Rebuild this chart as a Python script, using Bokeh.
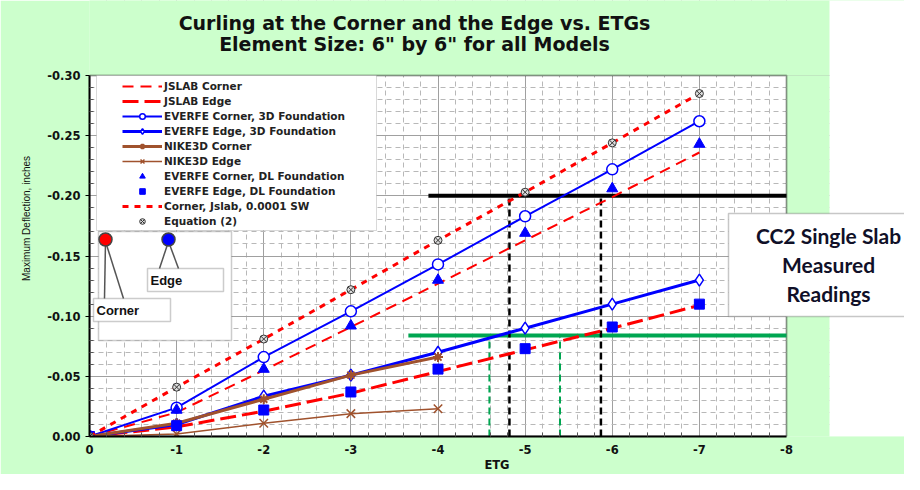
from bokeh.plotting import figure
from bokeh.models import (Range1d, FixedTicker, Legend, LegendItem, Label, BoxAnnotation)
from bokeh.embed import file_html
from bokeh.resources import INLINE

# ---------------- data ----------------
etg = [0, -1, -2, -3, -4, -5, -6, -7]
jslab_corner = [0, -0.020, -0.055, -0.091, -0.127, -0.163, -0.199, -0.236]
jslab_edge = [0, -0.008, -0.021, -0.036, -0.054, -0.072, -0.090, -0.109]
everfe_corner_3d = [0, -0.024, -0.066, -0.104, -0.143, -0.183, -0.222, -0.262]
everfe_edge_3d = [0, -0.010, -0.0335, -0.051, -0.070, -0.090, -0.110, -0.130]
etg_nike = [0, -1, -2, -3, -4]
nike_corner = [0, -0.011, -0.031, -0.051, -0.066]
nike_edge = [0, -0.002, -0.011, -0.019, -0.023]
everfe_corner_dl = [0, -0.022, -0.056, -0.092, -0.130, -0.169, -0.206, -0.243]
everfe_edge_dl = [0, -0.009, -0.022, -0.037, -0.056, -0.073, -0.091, -0.110]
corner_sw = [0, -0.041, -0.081, -0.122, -0.163, -0.203, -0.244, -0.285]
equation2 = [0, -0.041, -0.081, -0.122, -0.163, -0.203, -0.244, -0.285]

# measured readings (CC2 single slab)
corner_reading = -0.200
corner_reading_etg = [-4.82, -5.87]
edge_reading = -0.084
edge_reading_etg = [-4.59, -5.40]
corner_line_start = -3.89
edge_line_start = -3.66

x_ticks = [0, -1, -2, -3, -4, -5, -6, -7, -8]
x_tick_labels = ["0", "-1", "-2", "-3", "-4", "-5", "-6", "-7", "-8"]
y_ticks = [0, -0.05, -0.10, -0.15, -0.20, -0.25, -0.30]
y_tick_labels = ["0.00", "-0.05", "-0.10", "-0.15", "-0.20", "-0.25", "-0.30"]
X_END, Y_END = -8, -0.30

GREEN_BG = "#ccffcc"
RED = "#ff0000"
BLUE = "#0000ff"
BROWN = "#a0522d"
READ_GREEN = "#00a651"
FONT = "Liberation Sans"
WFONT = "DejaVu Sans"

# ---------------- layout (pixels) ----------------
W = 904
FL, FR, FT, FB = 89, 786, 75, 436      # chart area (axes box) in canvas pixels
def dx(px):
    return X_END * (px - FL) / (FR - FL)
def dy(py):
    return Y_END * (FB - py) / (FB - FT)

# The frame spans to the canvas top/right so that decorations can be drawn there
p = figure(frame_width=W - FL, frame_height=FB, output_backend="svg",
           toolbar_location=None,
           x_range=Range1d(0, dx(W)), y_range=Range1d(0, dy(0)),
           min_border_left=FL, min_border_right=0, min_border_top=0,
           min_border_bottom=38)
p.background_fill_color = GREEN_BG
p.border_fill_color = GREEN_BG
p.outline_line_color = None

x_minor = [-(i / 5.0) for i in range(0, 41) if i % 5 != 0]
y_minor = [-(i / 100.0) for i in range(0, 31) if i % 5 != 0]
p.xaxis.ticker = FixedTicker(ticks=x_ticks, minor_ticks=x_minor)
p.yaxis.ticker = FixedTicker(ticks=y_ticks, minor_ticks=y_minor)
p.xaxis.major_label_overrides = {t: l for t, l in zip(x_ticks, x_tick_labels)}
p.yaxis.major_label_overrides = {t: l for t, l in zip(y_ticks, y_tick_labels)}
p.xaxis.bounds = (0, X_END)
p.yaxis.bounds = (0, Y_END)

for ax in (p.xaxis[0], p.yaxis[0]):
    ax.axis_line_color = "black"
    ax.axis_line_width = 2
    ax.major_tick_line_color = "black"
    ax.major_tick_out = 4
    ax.major_tick_in = 0
    ax.minor_tick_line_color = "#555555"
    ax.minor_tick_in = 4
    ax.minor_tick_out = 0
    ax.major_label_text_font = WFONT
    ax.major_label_text_font_style = "bold"
    ax.major_label_text_font_size = "11.5px"
    ax.major_label_text_color = "#111111"
    ax.axis_label_text_font = FONT
    ax.axis_label_text_color = "#111111"

p.xaxis.major_tick_out = 0
p.xaxis.axis_label = "ETG"
p.xaxis.axis_label_text_font = WFONT
p.xaxis.axis_label_text_font_style = "bold"
p.xaxis.axis_label_text_font_size = "11.5px"
p.xaxis.axis_label_standoff = 1
p.xaxis.major_label_standoff = 8
p.yaxis.axis_label = "Maximum Deflection, inches"
p.yaxis.axis_label_text_font_style = "normal"
p.yaxis.axis_label_text_font_size = "10px"
p.yaxis.axis_label_standoff = 12
p.yaxis.major_label_standoff = 5

p.xgrid.grid_line_color = "#a0a0a0"
p.ygrid.grid_line_color = "#a0a0a0"
p.xgrid.minor_grid_line_color = "#b8b8b8"
p.ygrid.minor_grid_line_color = "#b8b8b8"
p.xgrid.minor_grid_line_dash = "5 4"
p.ygrid.minor_grid_line_dash = "5 4"

XMAX, YMAX = dx(W), dy(0)
# white chart area under the grid
p.add_layout(BoxAnnotation(left=0, right=X_END, top=Y_END, bottom=0, fill_color="white",
                           fill_alpha=1, line_alpha=0, level="image"))
# green / white covers for the parts of the frame outside the chart box
p.add_layout(BoxAnnotation(left=0, right=dx(829), top=YMAX, bottom=Y_END,
                           fill_color=GREEN_BG, fill_alpha=1, line_alpha=0, level="underlay"))
p.add_layout(BoxAnnotation(left=X_END, right=dx(829), top=Y_END, bottom=0,
                           fill_color=GREEN_BG, fill_alpha=1, line_alpha=0, level="underlay"))
p.add_layout(BoxAnnotation(left=dx(829), right=XMAX, top=YMAX, bottom=0,
                           fill_color="white", fill_alpha=1, line_alpha=0, level="underlay"))
# chart box border
p.add_layout(BoxAnnotation(left=0, right=X_END, top=Y_END, bottom=0, fill_alpha=0,
                           line_color="black", line_width=2, level="underlay"))

# legend background box
p.add_layout(BoxAnnotation(left=dx(96), right=dx(376), top=dy(75), bottom=dy(230),
                           fill_color="white", fill_alpha=1, line_color="#808080",
                           line_width=1, level="underlay"))

# ---------------- inset (Corner / Edge locator) ----------------
p.add_layout(BoxAnnotation(left=dx(98), right=dx(231), top=dy(231), bottom=dy(340),
                           fill_color="white", fill_alpha=1, line_color="#555555",
                           line_width=1.5, level="underlay"))
p.add_layout(BoxAnnotation(left=dx(93), right=dx(170), top=dy(298), bottom=dy(321),
                           fill_color="white", fill_alpha=1, line_color="#555555",
                           line_width=1.5, level="underlay"))
p.add_layout(BoxAnnotation(left=dx(147), right=dx(223), top=dy(268), bottom=dy(291),
                           fill_color="white", fill_alpha=1, line_color="#555555",
                           line_width=1.5, level="underlay"))
p.segment(x0=[dx(105), dx(105), dx(168), dx(168)], y0=[dy(241), dy(241), dy(241), dy(241)],
          x1=[dx(104), dx(123), dx(159), dx(178)], y1=[dy(298), dy(298), dy(268), dy(268)],
          line_color="#555555", line_width=1.5)
p.scatter(x=[dx(105)], y=[dy(239)], size=13, marker="circle", fill_color=RED,
          line_color="#444444", line_width=1.5)
p.scatter(x=[dx(168)], y=[dy(239)], size=13, marker="circle", fill_color=BLUE,
          line_color="#444444", line_width=1.5)
p.add_layout(Label(x=dx(96), y=dy(310), text="Corner", text_font=FONT,
                   text_font_style="bold", text_font_size="13px", text_color="#111111",
                   text_baseline="middle", text_align="left"))
p.add_layout(Label(x=dx(150), y=dy(280), text="Edge", text_font=FONT,
                   text_font_style="bold", text_font_size="13px", text_color="#111111",
                   text_baseline="middle", text_align="left"))

# ---------------- measured reading lines ----------------
p.segment(x0=[corner_line_start], y0=[corner_reading], x1=[X_END], y1=[corner_reading],
          line_color="black", line_width=4)
p.segment(x0=[edge_line_start], y0=[edge_reading], x1=[X_END], y1=[edge_reading],
          line_color=READ_GREEN, line_width=4)
p.segment(x0=corner_reading_etg, y0=[0, 0], x1=corner_reading_etg,
          y1=[corner_reading, corner_reading], line_color="black", line_width=2.5,
          line_dash="7 4")
p.segment(x0=edge_reading_etg, y0=[0, 0], x1=edge_reading_etg,
          y1=[edge_reading, edge_reading], line_color=READ_GREEN, line_width=2,
          line_dash="7 4")

# ---------------- data series ----------------
r_jc = p.line(etg, jslab_corner, line_color=RED, line_width=2, line_dash="11 7")
r_je = p.line(etg, jslab_edge, line_color=RED, line_width=3, line_dash="16 6")
r_ec_l = p.line(etg, everfe_corner_3d, line_color=BLUE, line_width=2)
r_ec_m = p.scatter(etg, everfe_corner_3d, marker="circle", size=11, fill_color="white",
                   line_color=BLUE, line_width=1.5)
r_ee_l = p.line(etg, everfe_edge_3d, line_color=BLUE, line_width=3)
r_ee_m = p.scatter(etg, everfe_edge_3d, marker="diamond", size=12, fill_color="white",
                   line_color=BLUE, line_width=1.5)
r_nc_l = p.line(etg_nike, nike_corner, line_color=BROWN, line_width=3)
r_nc_m = p.scatter(etg_nike, nike_corner, marker="asterisk", size=10, line_color=BROWN,
                   line_width=2)
r_ne_l = p.line(etg_nike, nike_edge, line_color=BROWN, line_width=1.5)
r_ne_m = p.scatter(etg_nike, nike_edge, marker="x", size=12, line_color=BROWN,
                   line_width=1.5)
r_cd = p.scatter(etg, everfe_corner_dl, marker="triangle", size=11, fill_color=BLUE,
                 line_color=BLUE)
r_ed = p.scatter(etg, everfe_edge_dl, marker="square", size=10, fill_color=BLUE,
                 line_color=BLUE)
r_sw = p.line(etg, corner_sw, line_color=RED, line_width=3, line_dash="6 6")
r_eq = p.scatter(etg, equation2, marker="circle_x", size=8, fill_color="#dddddd",
                 line_color="#333333", line_width=1)

legend = Legend(items=[
    LegendItem(label="JSLAB Corner", renderers=[r_jc]),
    LegendItem(label="JSLAB Edge", renderers=[r_je]),
    LegendItem(label="EVERFE Corner, 3D Foundation", renderers=[r_ec_l, r_ec_m]),
    LegendItem(label="EVERFE Edge, 3D Foundation", renderers=[r_ee_l, r_ee_m]),
    LegendItem(label="NIKE3D Corner", renderers=[r_nc_l, r_nc_m]),
    LegendItem(label="NIKE3D Edge", renderers=[r_ne_l, r_ne_m]),
    LegendItem(label="EVERFE Corner, DL Foundation", renderers=[r_cd]),
    LegendItem(label="EVERFE Edge, DL Foundation", renderers=[r_ed]),
    LegendItem(label="Corner, Jslab, 0.0001 SW", renderers=[r_sw]),
    LegendItem(label="Equation (2)", renderers=[r_eq]),
], location=(29, 204))
legend.margin = 0
legend.padding = 4
legend.spacing = 1
legend.glyph_width = 40
legend.glyph_height = 14
legend.label_height = 14
legend.label_standoff = 2
legend.label_text_font = WFONT
legend.label_text_font_style = "bold"
legend.label_text_font_size = "10.5px"
legend.label_text_color = "#222222"
legend.border_line_alpha = 0
legend.background_fill_alpha = 0
p.add_layout(legend)

# ---------------- titles ----------------
for txt, py in [("Curling at the Corner and the Edge vs. ETGs", 22),
                ("Element Size: 6\" by 6\" for all Models", 43)]:
    p.add_layout(Label(x=dx(414), y=dy(py), text=txt, text_font=WFONT,
                       text_font_style="bold", text_font_size="19px",
                       text_color="#111111", text_align="center",
                       text_baseline="middle", level="overlay"))

# ---------------- callout ----------------
p.add_layout(BoxAnnotation(left=dx(728), right=dx(960), top=dy(213), bottom=dy(316),
                           fill_color="white", fill_alpha=1, line_color="#444444",
                           line_width=1.5, level="overlay"))
p.add_layout(Label(x=dx(828), y=dy(264), text="CC2 Single Slab\nMeasured\nReadings",
                   text_font="Lato", text_font_style="bold",
                   text_font_size="21px", text_color="#101028", text_align="center",
                   text_baseline="middle", text_line_height=1.15, level="overlay"))

open("out.html", "w").write(file_html(p, INLINE))
